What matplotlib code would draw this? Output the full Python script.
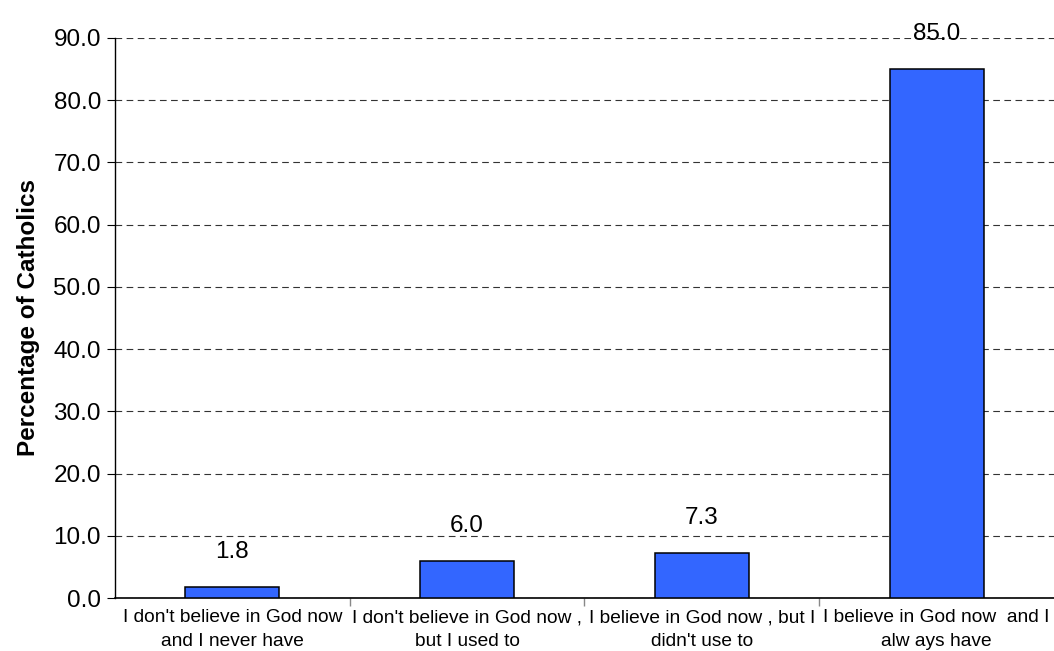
import numpy as np
import matplotlib.pyplot as plt

plt.rcParams['font.family'] = ['Liberation Sans', 'DejaVu Sans']

# answers and percentages
categories = ["I don't believe in God now\nand I never have",
              "I don't believe in God now ,\nbut I used to",
              "I believe in God now , but I\ndidn't use to",
              "I believe in God now  and I\nalw ays have"]
values = [1.8, 6.0, 7.3, 85.0]
yticks = [0, 10, 20, 30, 40, 50, 60, 70, 80, 90]

fig = plt.figure(figsize=(10.54, 6.51), dpi=100)
ax = fig.add_axes([0.109, 0.0814, 0.891, 0.8603])

x = np.arange(len(categories))
bars = ax.bar(x, values, width=0.40, color='#3366FF', edgecolor='black', linewidth=1.1, zorder=3)

for xi, v in zip(x, values):
    ax.annotate('%.1f' % v, (xi, v), xytext=(0, 17), textcoords='offset points',
                ha='center', va='bottom', fontsize=17.5, annotation_clip=False)

ax.set_xlim(-0.5, len(categories) - 0.5)
ax.set_ylim(0, 90)
ax.set_yticks(yticks)
ax.set_yticklabels(['%.1f' % t for t in yticks], fontsize=17.5)
ax.yaxis.grid(True, linestyle=(0, (6, 4)), color='#333333', linewidth=0.8, zorder=0)
ax.tick_params(axis='y', length=6, width=0.8, pad=4)

ax.set_xticks(x)
ax.set_xticklabels(categories, fontsize=13.8, linespacing=1.5)
ax.tick_params(axis='x', which='major', length=0, pad=8)
ax.set_xticks(np.arange(len(categories) - 1) + 0.5, minor=True)
ax.tick_params(axis='x', which='minor', length=6, width=1, color='#888888', direction='out')

ax.spines['top'].set_visible(False)
ax.spines['right'].set_visible(False)
ax.spines['left'].set_linewidth(1)
ax.spines['bottom'].set_linewidth(1.2)

ax.set_ylabel('Percentage of Catholics', fontsize=17.5, fontweight='bold', labelpad=10)

plt.savefig('out.png', dpi=100)
